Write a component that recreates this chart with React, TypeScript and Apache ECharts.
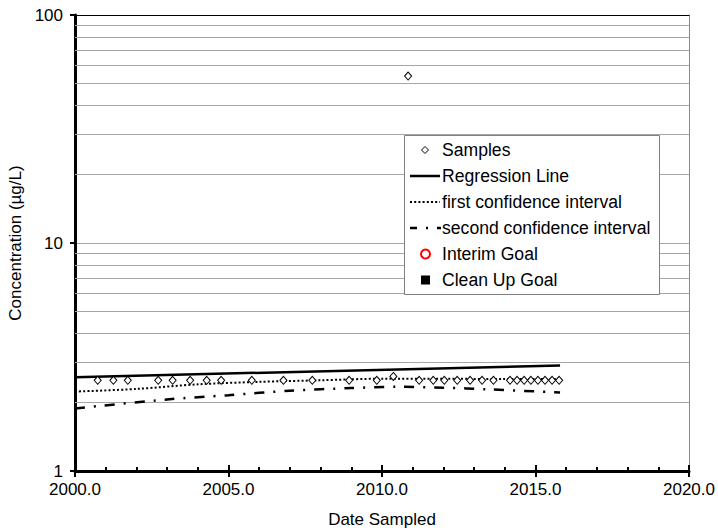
import React, { useEffect, useRef } from "react";
import * as echarts from "echarts";

const sampleDates = [
  2000.74, 2001.25, 2001.72, 2002.71, 2003.18, 2003.75, 2004.29, 2004.76, 2005.76, 2006.79,
  2007.73, 2008.93, 2009.83, 2010.37, 2010.85, 2011.21, 2011.67, 2012.03, 2012.45, 2012.87,
  2013.26, 2013.63, 2014.17, 2014.4, 2014.63, 2014.85, 2015.08, 2015.31, 2015.54, 2015.77,
];
const sampleValues = [
  2.5, 2.5, 2.5, 2.5, 2.5, 2.5, 2.5, 2.5, 2.5, 2.5,
  2.5, 2.5, 2.5, 2.6, 54, 2.5, 2.5, 2.5, 2.5, 2.5,
  2.5, 2.5, 2.5, 2.5, 2.5, 2.5, 2.5, 2.5, 2.5, 2.5,
];
const regressionDates = [2000.0, 2015.8];
const regressionValues = [2.58, 2.9];
const firstCIDates = [2000, 2002, 2004, 2006, 2008, 2010, 2012, 2014, 2015.8];
const firstCIValues = [2.23, 2.29, 2.4, 2.46, 2.5, 2.54, 2.54, 2.53, 2.53];
const secondCIDates = [2000, 2003, 2005, 2007, 2009, 2010.5, 2012, 2013.5, 2015.8];
const secondCIValues = [1.88, 2.06, 2.15, 2.25, 2.31, 2.34, 2.32, 2.28, 2.21];
const interimGoalValues: number[][] = [];
const cleanUpGoalValues: number[][] = [];
const minorGridValues = [2, 3, 4, 5, 6, 7, 8, 9, 20, 30, 40, 50, 60, 70, 80, 90];
const legendNames = [
  "Samples",
  "Regression Line",
  "first confidence interval",
  "second confidence interval",
  "Interim Goal",
  "Clean Up Goal",
];

const FONT = "'Liberation Sans', Arial, sans-serif";

function zip(xs: number[], ys: number[]) {
  return xs.map((x, i) => [x, ys[i]]);
}

export default function App() {
  const ref = useRef<HTMLDivElement>(null);
  useEffect(() => {
    if (!ref.current) return;
    const chart = echarts.init(ref.current, undefined, { renderer: "svg" });
    const lx = 404;
    const ly = 135;
    const rowY = [150, 176, 202, 228, 254, 280];
    const graphic: any[] = [
      {
        type: "rect",
        shape: { x: lx + 0.5, y: ly + 0.5, width: 255, height: 159 },
        style: { fill: "#fff", stroke: "#808080", lineWidth: 1 },
        z: 50,
      },
      {
        type: "polygon",
        shape: { points: [[425, rowY[0] - 3.5], [428.5, rowY[0]], [425, rowY[0] + 3.5], [421.5, rowY[0]]] },
        style: { fill: "#fff", stroke: "#000", lineWidth: 1 },
        z: 51,
      },
      {
        type: "line",
        shape: { x1: 410, y1: rowY[1], x2: 440, y2: rowY[1] },
        style: { stroke: "#000", lineWidth: 2.5 },
        z: 51,
      },
      {
        type: "line",
        shape: { x1: 410, y1: rowY[2], x2: 440, y2: rowY[2] },
        style: { stroke: "#000", lineWidth: 2, lineDash: [2, 2.2] },
        z: 51,
      },
      {
        type: "line",
        shape: { x1: 410, y1: rowY[3], x2: 441, y2: rowY[3] },
        style: { stroke: "#000", lineWidth: 2.5, lineDash: [7, 9, 2, 9] },
        z: 51,
      },
      {
        type: "circle",
        shape: { cx: 425.5, cy: rowY[4], r: 4.5 },
        style: { fill: "#fff", stroke: "#ff0000", lineWidth: 2 },
        z: 51,
      },
      {
        type: "rect",
        shape: { x: 421, y: rowY[5] - 4.5, width: 9, height: 9 },
        style: { fill: "#000" },
        z: 51,
      },
      ...legendNames.map((n, i) => ({
        type: "text",
        x: 442,
        y: rowY[i],
        style: {
          text: n,
          fill: "#000",
          font: `17.6px ${FONT}`,
          verticalAlign: "middle",
          align: "left",
        },
        z: 51,
      })),
    ];

    chart.setOption({
      animation: false,
      backgroundColor: "#fff",
      textStyle: { fontFamily: FONT },
      grid: { left: 75, right: 29, top: 15, bottom: 60, containLabel: false, outerBoundsMode: "none" },
      xAxis: [
        {
          type: "value",
          min: 2000,
          max: 2020,
          interval: 5,
          position: "bottom",
          name: "Date Sampled",
          nameLocation: "middle",
          nameGap: 40,
          nameTextStyle: { fontSize: 17, color: "#000", fontFamily: FONT },
          axisLine: { show: true, onZero: false, lineStyle: { color: "#000", width: 3 } },
          axisTick: { show: true, inside: false, length: 6, lineStyle: { color: "#000", width: 2 } },
          axisLabel: {
            show: true,
            margin: 10,
            color: "#000",
            fontSize: 17,
            fontFamily: FONT,
            formatter: (v: number) => v.toFixed(1),
          },
          splitLine: { show: false },
        },
        {
          type: "value",
          min: 2000,
          max: 2020,
          interval: 5,
          position: "bottom",
          axisLine: { show: false, onZero: false },
          axisTick: { show: true, inside: true, length: 6, lineStyle: { color: "#000", width: 2 } },
          minorTick: { show: true, splitNumber: 5, length: 4, lineStyle: { color: "#000", width: 2 } },
          axisLabel: { show: false },
          splitLine: { show: false },
        },
        {
          type: "value",
          min: 0,
          max: 1,
          position: "top",
          axisLine: { show: true, onZero: false, lineStyle: { color: "#000", width: 1 } },
          axisTick: { show: false },
          axisLabel: { show: false },
          splitLine: { show: false },
        },
      ],
      yAxis: [
        {
          type: "log",
          logBase: 10,
          min: 1,
          max: 100,
          position: "left",
          name: "Concentration (µg/L)",
          nameLocation: "middle",
          nameGap: 47,
          nameTextStyle: { fontSize: 17, color: "#000", fontFamily: FONT },
          axisLine: { show: true, onZero: false, lineStyle: { color: "#000", width: 3 } },
          axisTick: { show: true, inside: false, length: 5, lineStyle: { color: "#000", width: 2 } },
          axisLabel: { show: true, margin: 12, color: "#000", fontSize: 17, fontFamily: FONT },
          splitLine: { show: true, lineStyle: { color: "#a6a6a6", width: 1 } },
        },
        {
          type: "value",
          min: 0,
          max: 1,
          position: "right",
          axisLine: { show: true, onZero: false, lineStyle: { color: "#8c8c8c", width: 1 } },
          axisTick: { show: false },
          axisLabel: { show: false },
          splitLine: { show: false },
        },
      ],
      graphic,
      series: [
        {
          name: "Samples",
          type: "scatter",
          xAxisIndex: 0,
          yAxisIndex: 0,
          data: zip(sampleDates, sampleValues),
          symbol: "diamond",
          symbolSize: [7, 8],
          itemStyle: { color: "#fff", borderColor: "#000", borderWidth: 1, opacity: 1 },
          z: 10,
          markLine: {
            silent: true,
            symbol: "none",
            label: { show: false },
            z: 1,
            lineStyle: { color: "#a6a6a6", width: 1, type: "solid" },
            data: minorGridValues.map((v) => ({ yAxis: v })),
          },
        },
        {
          name: "Regression Line",
          type: "line",
          xAxisIndex: 0,
          yAxisIndex: 0,
          data: zip(regressionDates, regressionValues),
          symbol: "none",
          lineStyle: { color: "#000", width: 2.5 },
          z: 8,
        },
        {
          name: "first confidence interval",
          type: "line",
          xAxisIndex: 0,
          yAxisIndex: 0,
          data: zip(firstCIDates, firstCIValues),
          symbol: "none",
          smooth: 0.3,
          lineStyle: { color: "#000", width: 2, type: [2, 2.2] },
          z: 8,
        },
        {
          name: "second confidence interval",
          type: "line",
          xAxisIndex: 0,
          yAxisIndex: 0,
          data: zip(secondCIDates, secondCIValues),
          symbol: "none",
          smooth: 0.3,
          lineStyle: { color: "#000", width: 2.5, type: [10, 9, 2, 9] },
          z: 8,
        },
        {
          name: "Interim Goal",
          type: "scatter",
          data: interimGoalValues,
          symbol: "emptyCircle",
          itemStyle: { color: "#ff0000" },
        },
        {
          name: "Clean Up Goal",
          type: "scatter",
          data: cleanUpGoalValues,
          symbol: "rect",
          itemStyle: { color: "#000" },
        },
      ],
    });
    return () => chart.dispose();
  }, []);
  return (
    <div
      ref={ref}
      style={{ position: "fixed", left: 0, top: 0, width: 718, height: 531, background: "#fff" }}
    />
  );
}
